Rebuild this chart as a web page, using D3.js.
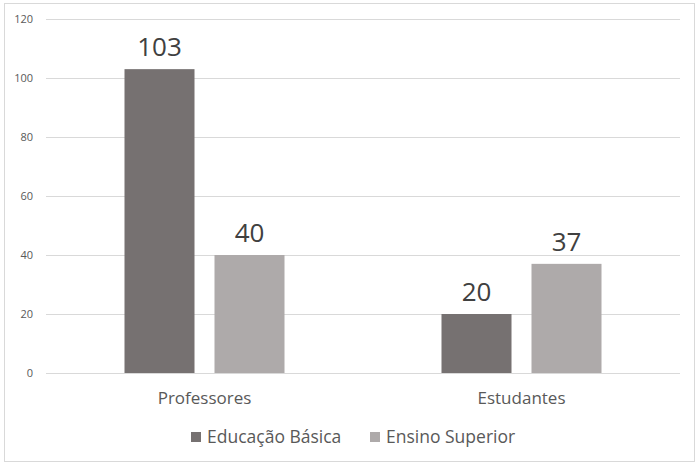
<!DOCTYPE html>
<html><head><meta charset="utf-8">
<script src="https://cdn.jsdelivr.net/npm/d3@7/dist/d3.min.js"></script>
<style>body{margin:0;background:#fff}svg{display:block}</style>
</head><body>
<script>
const categories = ["Professores", "Estudantes"];
const seriesNames = ["Educação Básica", "Ensino Superior"];
const educacaoBasica = [103, 20];
const ensinoSuperior = [40, 37];
const yTicks = [0, 20, 40, 60, 80, 100, 120];
const colors = ["#767171", "#AEAAAA"];

(function(){
const W = 700, H = 469;
const svg = d3.select("body").append("svg").attr("width", W).attr("height", H);
const font = "'Open Sans', 'Noto Sans', sans-serif";

svg.append("rect").attr("x", 4.5).attr("y", 3.5).attr("width", 690).attr("height", 458)
  .attr("fill", "#fff").attr("stroke", "#d9d9d9").attr("stroke-width", 1);

const mLeft = 46, mRight = 680, mTop = 19, mBottom = 373;
const x = d3.scaleBand().domain(categories).range([mLeft, mRight]).paddingInner(0).paddingOuter(0);
const x1 = d3.scaleBand().domain(seriesNames).range([x.bandwidth()/2 - 80, x.bandwidth()/2 + 80]).paddingInner(2/9).paddingOuter(0);
const y = d3.scaleLinear().domain([0, 120]).range([mBottom, mTop]);

svg.append("g").selectAll("line").data(yTicks).join("line")
  .attr("x1", mLeft).attr("x2", mRight)
  .attr("y1", d => Math.round(y(d)) + 0.5).attr("y2", d => Math.round(y(d)) + 0.5)
  .attr("stroke", "#d9d9d9").attr("stroke-width", 1);

const yAxis = d3.axisLeft(y).tickValues(yTicks).tickSize(0).tickPadding(0);
const gy = svg.append("g").attr("transform", `translate(33,0)`).call(yAxis);
gy.select(".domain").remove();
gy.selectAll("text").attr("font-family", font).attr("font-size", 11).attr("fill", "#595959");

const data = categories.map((c, i) => ({cat: c, vals: [
  {s: seriesNames[0], v: educacaoBasica[i]},
  {s: seriesNames[1], v: ensinoSuperior[i]}]}));

const groups = svg.append("g").selectAll("g").data(data).join("g")
  .attr("transform", d => `translate(${x(d.cat)},0)`);

groups.selectAll("rect").data(d => d.vals).join("rect")
  .attr("x", d => x1(d.s)).attr("width", x1.bandwidth())
  .attr("y", d => y(d.v)).attr("height", d => y(0) - y(d.v))
  .attr("fill", (d, i) => colors[i]);

groups.selectAll("text.lbl").data(d => d.vals).join("text").attr("class", "lbl")
  .attr("x", d => x1(d.s) + x1.bandwidth()/2).attr("y", d => y(d.v) - 13)
  .attr("text-anchor", "middle").attr("font-family", font).attr("font-size", 26)
  .attr("fill", "#404040").text(d => d.v);

const xAxis = d3.axisBottom(x).tickSize(0).tickPadding(0);
const gx = svg.append("g").attr("transform", `translate(0,${mBottom + 31})`).call(xAxis);
gx.select(".domain").remove();
gx.selectAll("text").attr("font-family", font).attr("font-size", 17).attr("fill", "#595959").attr("dy", 0);

const legX = [191, 370];
const leg = svg.append("g").selectAll("g").data(seriesNames).join("g")
  .attr("transform", (d, i) => `translate(${legX[i]},432)`);
leg.append("rect").attr("width", 10).attr("height", 10).attr("fill", (d, i) => colors[i]);
leg.append("text").attr("x", 16).attr("y", 11).attr("font-family", font).attr("font-size", 17.5)
  .attr("fill", "#595959").text(d => d);
})();
</script>
</body></html>
